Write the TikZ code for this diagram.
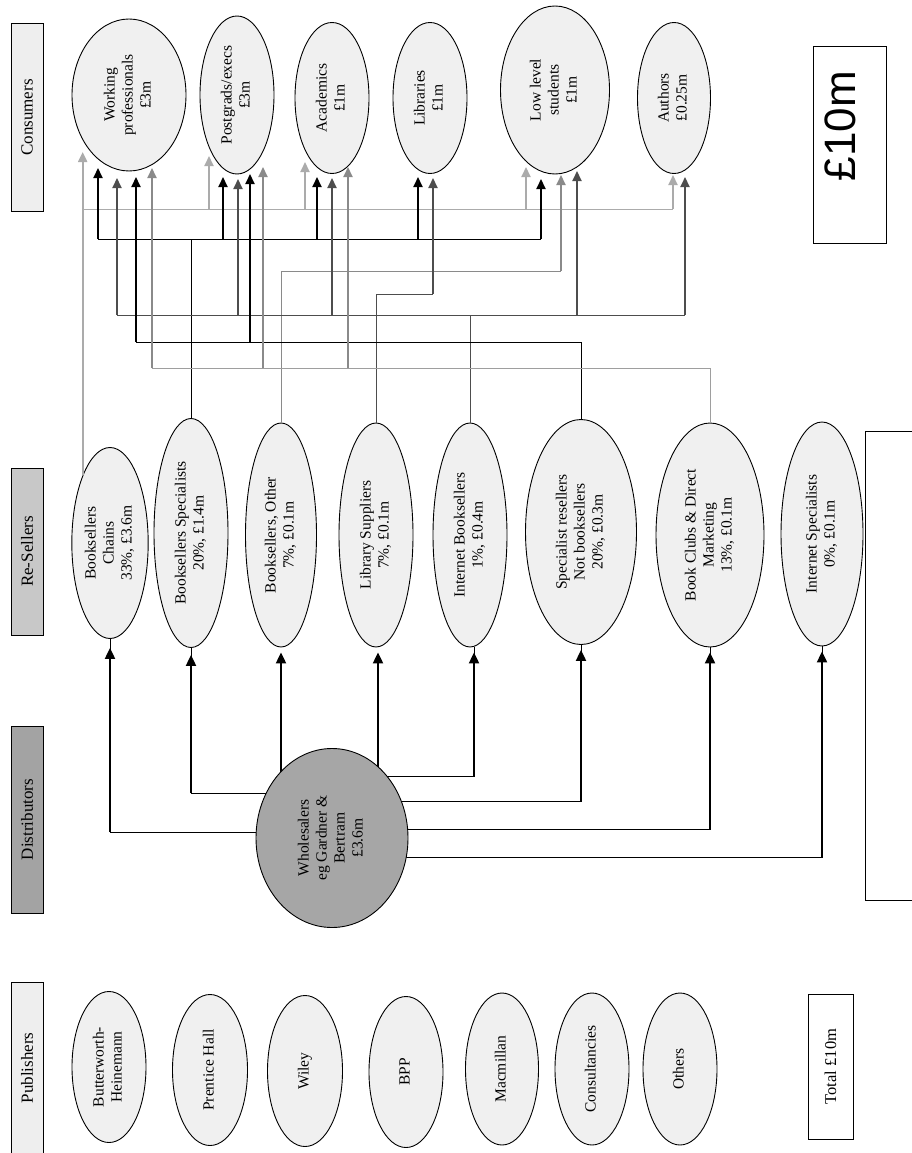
\documentclass[tikz,border=0pt]{standalone}
\usepackage{fontspec}
\usepackage{graphicx}
\setmainfont{Liberation Serif}
\newfontfamily\arialf{Liberation Sans}
\usetikzlibrary{shapes.geometric,arrows.meta,backgrounds}
\definecolor{ellfill}{HTML}{F0F0F0}
\definecolor{wsfill}{HTML}{A6A6A6}
\definecolor{hlight}{HTML}{EEEEEE}
\definecolor{hmid}{HTML}{C8C8C8}
\definecolor{hdark}{HTML}{A3A3A3}
\definecolor{cLight}{HTML}{ABABAB}
\definecolor{cGray}{HTML}{8A8A8A}
\definecolor{cGrayB}{HTML}{9E9E9E}
\definecolor{cDark}{HTML}{4D4D4D}
\newcommand{\rt}[1]{\rotatebox{90}{\begin{tabular}{@{}c@{}}#1\end{tabular}}}
\tikzset{
  ell/.style={ellipse, draw, fill=ellfill, inner sep=0pt, line width=0.9pt},
  hdr/.style={draw, line width=1pt, inner sep=0pt, minimum width=32pt, font=\fontsize{17}{20}\selectfont},
  conn/.style={line width=1pt},
  carr/.style={line width=2pt, -{Triangle[width=9pt,length=10pt]}},
  farr/.style={line width=2.2pt, -{Triangle[width=10pt,length=11pt]}},
}
\begin{document}
\begin{tikzpicture}[x=1pt,y=-1pt, font=\fontsize{15.5}{18}\selectfont]
\useasboundingbox (0,0) rectangle (912,1153);

% headers
\node[hdr, fill=hlight, minimum height=187] (hcons) at (27,117.5) {\rotatebox{90}{Consumers}};
\node[hdr, fill=hmid, minimum height=167] (hres) at (27,551.5) {\rotatebox{90}{Re-Sellers}};
\node[hdr, fill=hdark, minimum height=187] (hdist) at (27,819.5) {\rotatebox{90}{Distributors}};
\node[hdr, fill=hlight, minimum height=172] (hpub) at (27,1068) {\rotatebox{90}{Publishers}};

% consumers
\node[ell, minimum width=114, minimum height=152] (cwp) at (129,95) {\rt{Working\\professionals\\£3m}};
\node[ell, minimum width=74, minimum height=158] (cpg) at (237,95) {\rt{Postgrads/execs\\£3m}};
\node[ell, minimum width=74, minimum height=151] (cac) at (332,98) {\rt{Academics\\£1m}};
\node[ell, minimum width=74, minimum height=151] (cli) at (430,98) {\rt{Libraries\\£1m}};
\node[ell, minimum width=109, minimum height=168] (cll) at (555,90) {\rt{Low level\\students\\£1m}};
\node[ell, minimum width=73, minimum height=151] (cau) at (674,98) {\rt{Authors\\£0.25m}};

\node[draw, line width=1pt, minimum width=73, minimum height=196, inner sep=0pt] (big) at (849.5,145)
  {\rotatebox{90}{\hspace*{38pt}\raisebox{0pt}[\height][\dimexpr\depth+18pt]{\fontsize{44}{44}\arialf £10m}}};

% resellers
\node[ell, minimum width=73, minimum height=191] (rbc) at (110,543) {\rt{Booksellers\\Chains\\33\%, £3.6m}};
\node[ell, minimum width=74, minimum height=229] (rbs) at (191,533) {\rt{Booksellers Specialists\\20\%, £1.4m}};
\node[ell, minimum width=71, minimum height=224] (rbo) at (281,535) {\rt{Booksellers, Other\\7\%, £0.1m}};
\node[ell, minimum width=74, minimum height=224] (rls) at (376,535) {\rt{Library Suppliers\\7\%, £0.1m}};
\node[ell, minimum width=74, minimum height=224] (rib) at (470,535) {\rt{Internet Booksellers\\1\%, £0.4m}};
\node[ell, minimum width=111, minimum height=225] (rsr) at (581,532) {\rt{Specialist resellers\\Not booksellers\\20\%, £0.3m}};
\node[ell, minimum width=108, minimum height=224] (rbd) at (710,535) {\rt{Book Clubs \& Direct\\Marketing\\13\%, £0.1m}};
\node[ell, minimum width=82, minimum height=224] (ris) at (822,534) {\rt{Internet Specialists\\0\%, £0.1m}};

\node[draw, line width=1pt, minimum width=60, minimum height=469, inner sep=0pt] (blank) at (895,665.5) {};

% distributor
\node[ellipse, draw, fill=wsfill, line width=0.9pt, inner sep=0pt, minimum width=152, minimum height=179] (ws) at (332,838)
  {\rt{Wholesalers\\eg Gardner \&\\Bertram\\£3.6m}};

% publishers
\node[ell, minimum width=74, minimum height=151] (p1) at (109,1067) {\rt{Butterworth-\\Heinemann}};
\node[ell, minimum width=75, minimum height=151] (p2) at (210,1070) {\rt{Prentice Hall}};
\node[ell, minimum width=75, minimum height=151] (p3) at (305,1071) {\rt{Wiley}};
\node[ell, minimum width=74, minimum height=151] (p4) at (406,1072) {\rt{BPP}};
\node[ell, minimum width=73, minimum height=152] (p5) at (502,1069) {\rt{Macmillan}};
\node[ell, minimum width=74, minimum height=152] (p6) at (592,1069) {\rt{Consultancies}};
\node[ell, minimum width=74, minimum height=152] (p7) at (680,1069) {\rt{Others}};

\node[draw, line width=1pt, minimum width=45, minimum height=145, inner sep=0pt] (total) at (830.5,1066.5) {\rotatebox{90}{\fontsize{16.5}{19}\selectfont Total £10m}};

% distributor -> resellers
\begin{scope}[on background layer]
  \draw[conn] (ws.center |- 0,832) -| (rbc.south);
  \draw[conn] (ws.center |- 0,793) -| (rbs.south);
  \draw[conn] (ws.center |- 0,776) -| ([xshift=4pt]rib.south);
  \draw[conn] (ws.center |- 0,801) -| (rsr.south);
  \draw[conn] (ws.center |- 0,829) -| (rbd.south);
  \draw[conn] (ws.center |- 0,857) -| (ris.south);
  \draw[farr, shorten >=9pt] (rbc.south |- 0,832) -- (rbc.south);
  \draw[farr, shorten >=7pt] (rbs.south |- 0,793) -- (rbs.south);
  \draw[farr, shorten >=5pt] (rbo.south |- ws.center) -- (rbo.south);
  \draw[farr, shorten >=5pt] ([xshift=2pt]rls.south |- ws.center) -- ([xshift=2pt]rls.south);
  \draw[farr, shorten >=5pt] ([xshift=4pt]rib.south |- 0,776) -- ([xshift=4pt]rib.south);
  \draw[farr, shorten >=5pt] (rsr.south |- 0,801) -- (rsr.south);
  \draw[farr, shorten >=5pt] (rbd.south |- 0,829) -- (rbd.south);
  \draw[farr, shorten >=5pt] (ris.south |- 0,857) -- (ris.south);
\end{scope}

% resellers -> consumers
% Booksellers Chains (light grey)
\draw[carr, cLight] (rbc.north west) -- (rbc.north west |- 0,152);
\draw[conn, cLight] (rbc.north west |- 0,209) -- (673,209);
\foreach \x/\t in {209/156, 305/162, 526/167, 673/175}
  \draw[carr, cLight] (\x,209) -- (\x,\t);

% Booksellers Specialists (black)
\draw[conn] (rbs.north) -- (rbs.north |- 0,239);
\draw[conn] (98,239) -- (541,239);
\foreach \x/\t in {98/168, 223/177, 317/177, 418/177, 541/179}
  \draw[carr, black] (\x,239) -- (\x,\t);

% Booksellers Other (grey)
\draw[conn, cGray] (rbo.north) |- (561,271);
\draw[carr, cGray] (561,271) -- (561,175);

% Library Suppliers (dark)
\draw[conn, cDark] (rls.north) |- (433,294);
\draw[carr, cDark] (433,294) -- (433,178);

% Internet Booksellers (dark)
\draw[conn, cDark] (rib.north) -- (rib.north |- 0,315);
\draw[conn, cDark] (117,315) -- (685,315);
\foreach \x/\t in {117/178, 238/179, 332/178, 577/171, 685/177}
  \draw[carr, cDark] (\x,315) -- (\x,\t);

% Specialist resellers (black)
\draw[conn] (rsr.north) |- (136,342);
\foreach \x/\t in {136/177, 250/174}
  \draw[carr, black] (\x,342) -- (\x,\t);

% Book Clubs (grey)
\draw[conn, cGrayB] (rbd.north) |- (152,368);
\foreach \x/\t in {152/168, 263/167, 348/167}
  \draw[carr, cGray] (\x,368) -- (\x,\t);
\end{tikzpicture}
\end{document}
